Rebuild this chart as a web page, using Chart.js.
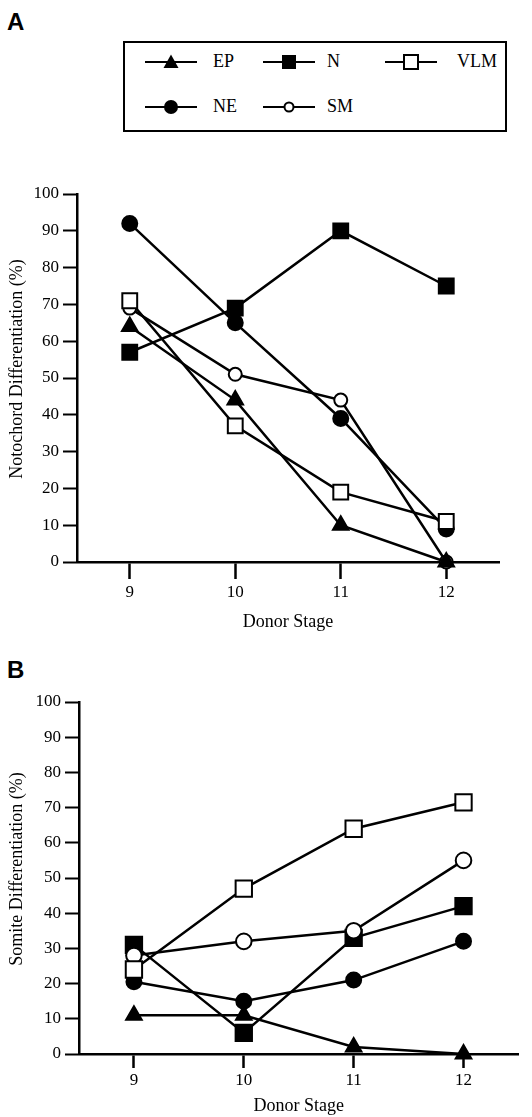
<!DOCTYPE html>
<html><head><meta charset="utf-8">
<script src="https://cdn.jsdelivr.net/npm/chart.js@4/dist/chart.umd.min.js"></script>
<style>
html,body{margin:0;padding:0;background:#fff;}
body{width:532px;height:1117px;position:relative;overflow:hidden;font-family:"Liberation Serif","Times New Roman",serif;color:#000;}
.panel{position:absolute;font-family:"Liberation Sans",Arial,sans-serif;font-weight:bold;font-size:24px;line-height:24px;}
.wrap{position:absolute;left:0;}
#legend{position:absolute;left:123px;top:41px;width:380px;height:87px;border:2px solid #000;}
.sym{position:absolute;width:52px;height:20px;}
.lab{position:absolute;font-size:18px;line-height:20px;height:20px;white-space:nowrap;}
</style>
</head><body>
<div class="panel" style="left:7px;top:10px;">A</div>
<div class="panel" style="left:7px;top:658px;">B</div>
<div id="legend"></div>
<div class="wrap" style="top:170px;"><canvas id="cA" width="532" height="470"></canvas></div>
<div class="wrap" style="top:680px;"><canvas id="cB" width="532" height="437"></canvas></div>
<script>
// ---- data ----
const stages = ['9', '10', '11', '12'];
const seriesNames = ['EP', 'N', 'VLM', 'NE', 'SM'];
// Panel A: Notochord differentiation (%)
const notoEP  = [64, 44, 10, 0];
const notoN   = [57, 69, 90, 75];
const notoVLM = [71, 37, 19, 11];
const notoNE  = [92, 65, 39, 9];
const notoSM  = [69, 51, 44, 0];
// Panel B: Somite differentiation (%)
const somEP  = [11, 11, 2, 0];
const somN   = [31, 6, 33, 42];
const somVLM = [24, 47, 64, 71.5];
const somNE  = [20.5, 15, 21, 32];
const somSM  = [28, 32, 35, 55];

const FONT = '"Liberation Serif", "Times New Roman", serif';

const styles = {
  EP:  {pointStyle: 'triangle', bg: '#000', r: 9},
  N:   {pointStyle: 'rect',     bg: '#000', r: 10.5},
  VLM: {pointStyle: 'rect',     bg: '#fff', r: 10.5},
  NE:  {pointStyle: 'circle',   bg: '#000', r: 7.5},
  SM:  {pointStyle: 'circle',   bg: '#fff', r: 6.5}
};

function ds(name, data, order, scale) {
  const s = styles[name];
  return {
    label: name, data: data, order: order,
    borderColor: '#000', borderWidth: 2.5,
    pointStyle: s.pointStyle, pointBackgroundColor: s.bg, pointBorderColor: '#000',
    pointBorderWidth: 2, pointRadius: s.r * scale, pointHoverRadius: s.r * scale,
    tension: 0, fill: false, clip: false
  };
}

function makeChart(id, datasets, cfg) {
  return new Chart(document.getElementById(id), {
    type: 'line',
    data: {labels: stages, datasets: datasets},
    options: {
      responsive: false, animation: false, devicePixelRatio: 1,
      events: [],
      layout: {padding: {top: cfg.padTop, right: cfg.padRight, bottom: 0, left: 0}},
      plugins: {legend: {display: false}, tooltip: {enabled: false}},
      scales: {
        x: {
          type: 'category', offset: true,
          grid: {offset: false, drawOnChartArea: false, drawTicks: true, tickLength: cfg.xTick, tickWidth: 2.5, tickColor: '#000', color: '#000'},
          border: {color: '#000', width: 2.5},
          ticks: {color: '#000', font: {family: FONT, size: 17}, padding: cfg.xPad, maxRotation: 0},
          title: {display: true, text: 'Donor Stage', color: '#000', font: {family: FONT, size: 18}, padding: {top: 0, bottom: cfg.xTitlePad}},
          afterFit: s => { s.height = cfg.xH; }
        },
        y: {
          min: 0, max: 100,
          ticks: {stepSize: 10, color: '#000', font: {family: FONT, size: 17}, padding: 4},
          grid: {drawOnChartArea: false, drawTicks: true, tickLength: 14, tickWidth: 2, tickColor: '#000', color: '#000'},
          border: {color: '#000', width: 2.5},
          title: {display: true, text: cfg.yTitle, color: '#000', font: {family: FONT, size: 18}, padding: {top: 6, bottom: 0}},
          afterFit: s => { s.width = cfg.yW; }
        }
      }
    }
  });
}

makeChart('cA', [
  ds('EP', notoEP, 0, 1), ds('VLM', notoVLM, 1, 1), ds('N', notoN, 2, 1),
  ds('NE', notoNE, 3, 1), ds('SM', notoSM, 4, 1)
], {padTop: 24, padRight: 33, xTick: 17, xPad: 3, xTitlePad: 7, xH: 78, yW: 77,
    yTitle: '    Notochord Differentiation (%)'});

makeChart('cB', [
  ds('EP', somEP, 0, 1), ds('VLM', somVLM, 1, 1.1), ds('SM', somSM, 2, 1.2),
  ds('N', somN, 3, 1.1), ds('NE', somNE, 4, 1)
], {padTop: 22, padRight: 9, xTick: 14, xPad: 2, xTitlePad: 0, xH: 63, yW: 79,
    yTitle: '    Somite Differentiation (%)'});

// ---- legend (HTML) ----
const legendItems = [
  {name: 'EP',  x: 145, y: 62, lx: 213},
  {name: 'N',   x: 263, y: 62, lx: 327},
  {name: 'VLM', x: 385, y: 62, lx: 457},
  {name: 'NE',  x: 145, y: 107, lx: 213},
  {name: 'SM',  x: 263, y: 107, lx: 327}
];
const svgNS = 'http://www.w3.org/2000/svg';
legendItems.forEach(it => {
  const svg = document.createElementNS(svgNS, 'svg');
  svg.setAttribute('class', 'sym'); svg.setAttribute('width', 52); svg.setAttribute('height', 20);
  svg.style.left = it.x + 'px'; svg.style.top = (it.y - 10) + 'px';
  const line = document.createElementNS(svgNS, 'line');
  line.setAttribute('x1', 0); line.setAttribute('x2', 52); line.setAttribute('y1', 10); line.setAttribute('y2', 10);
  line.setAttribute('stroke', '#000'); line.setAttribute('stroke-width', 2);
  svg.appendChild(line);
  let m;
  if (it.name === 'EP') {
    m = document.createElementNS(svgNS, 'polygon');
    m.setAttribute('points', '26,2.5 33.5,16 18.5,16'); m.setAttribute('fill', '#000');
  } else if (it.name === 'N') {
    m = document.createElementNS(svgNS, 'rect');
    m.setAttribute('x', 19); m.setAttribute('y', 3); m.setAttribute('width', 14); m.setAttribute('height', 14);
    m.setAttribute('fill', '#000');
  } else if (it.name === 'VLM') {
    m = document.createElementNS(svgNS, 'rect');
    m.setAttribute('x', 19); m.setAttribute('y', 3); m.setAttribute('width', 14); m.setAttribute('height', 14);
    m.setAttribute('fill', '#fff'); m.setAttribute('stroke', '#000'); m.setAttribute('stroke-width', 2);
  } else if (it.name === 'NE') {
    m = document.createElementNS(svgNS, 'circle');
    m.setAttribute('cx', 26); m.setAttribute('cy', 10); m.setAttribute('r', 7); m.setAttribute('fill', '#000');
  } else {
    m = document.createElementNS(svgNS, 'circle');
    m.setAttribute('cx', 26); m.setAttribute('cy', 10); m.setAttribute('r', 4.5);
    m.setAttribute('fill', '#fff'); m.setAttribute('stroke', '#000'); m.setAttribute('stroke-width', 2);
  }
  svg.appendChild(m);
  document.body.appendChild(svg);
  const lab = document.createElement('div');
  lab.className = 'lab'; lab.textContent = it.name;
  lab.style.left = it.lx + 'px'; lab.style.top = (it.y - 11) + 'px';
  document.body.appendChild(lab);
});
</script>
</body></html>
